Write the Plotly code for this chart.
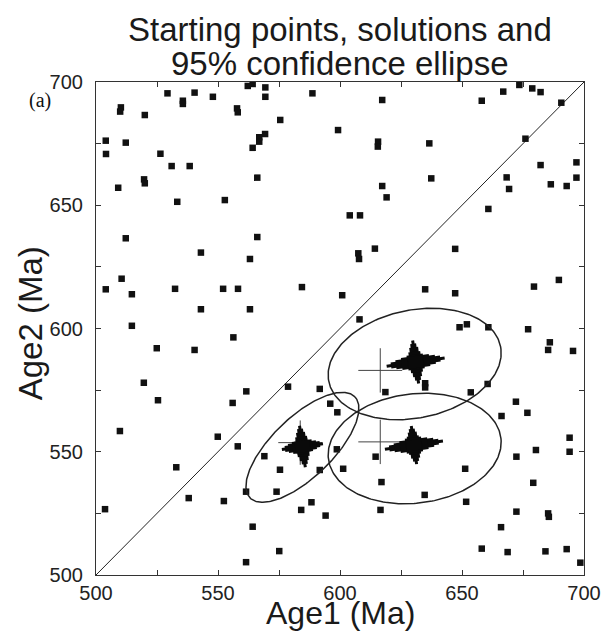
import numpy as np
import plotly.graph_objects as go

# ---------------- data ----------------
# starting points (Age1, Age2) in Ma
start_x = [529.3, 540.4, 547.9, 535.6, 535.6, 562.2, 564.2, 569.4, 569.4, 588.7,
           510.2, 509.9, 520.0, 557.8, 558.1, 575.5, 599.2, 504.0, 512.2, 504.1,
           526.4, 569.3, 566.9, 566.9, 564.2, 531.0, 538.4, 519.7, 520.0, 509.1,
           566.1, 533.3, 552.8, 604.0, 512.2, 566.1, 543.0, 563.1, 510.5, 504.0,
           514.7, 532.4, 552.1, 558.2, 584.4, 600.9, 543.0, 563.1, 514.7,
           617.3, 658.1, 666.9, 673.5, 678.8, 682.2, 690.7, 615.6, 615.5, 636.6,
           676.0, 696.9, 682.2, 668.3, 669.3, 696.9, 686.4, 692.9, 637.4, 617.3,
           619.1, 608.2, 660.8, 614.3, 607.5, 607.8, 647.2, 634.9, 647.2, 679.5,
           689.7, 608.0, 649.0, 652.0, 660.8, 677.1,
           556.3, 524.9, 540.4, 519.6, 525.4, 561.6, 556.0, 578.7, 509.8, 549.9,
           558.1, 569.0, 575.4, 532.9, 538.0, 552.4, 561.5, 574.0, 503.7, 564.2,
           575.1, 561.5,
           591.7, 596.0, 598.9, 591.7, 598.7, 601.3, 614.6, 588.3, 584.1, 594.1,
           634.9, 634.9, 618.6, 653.6, 660.5, 672.1, 666.2, 651.3, 617.0, 634.7,
           651.7, 616.6, 672.3, 672.3,
           686.0, 685.3, 695.5, 676.8, 694.1, 694.1, 680.3, 679.2, 685.3, 685.6,
           666.0, 658.1, 668.7, 684.2, 692.9, 698.5]
start_y = [695.4, 695.7, 694.0, 692.4, 691.1, 698.4, 699.2, 697.8, 694.0, 695.4,
           689.7, 688.0, 686.6, 689.3, 687.7, 684.6, 680.5, 676.2, 675.4, 670.8,
           670.9, 678.9, 677.6, 675.8, 673.3, 665.9, 665.9, 660.5, 658.9, 657.1,
           661.2, 651.4, 652.1, 645.9, 636.6, 637.1, 630.8, 628.2, 620.2, 615.9,
           613.9, 616.1, 616.1, 616.1, 616.8, 613.5, 607.8, 607.8, 601.1,
           692.7, 692.4, 696.1, 698.8, 697.4, 695.9, 691.6, 675.8, 673.8, 675.1,
           677.0, 667.4, 666.3, 661.3, 656.6, 661.2, 658.5, 657.8, 660.9, 657.8,
           653.2, 645.9, 648.5, 632.4, 630.5, 628.2, 632.3, 615.9, 614.3, 617.0,
           619.7, 603.7, 600.5, 601.7, 600.5, 599.7,
           596.4, 592.0, 591.3, 578.0, 570.9, 574.5, 569.8, 576.4, 558.4, 556.1,
           552.2, 548.2, 542.7, 543.7, 531.2, 530.0, 533.8, 533.8, 526.7, 519.6,
           509.7, 505.2,
           575.5, 569.5, 566.0, 542.6, 551.0, 543.1, 548.0, 529.5, 526.4, 524.1,
           577.8, 576.1, 574.2, 574.1, 577.5, 570.3, 564.5, 543.1, 537.7, 532.5,
           529.7, 526.4, 548.0, 525.7,
           594.4, 591.3, 590.9, 565.8, 555.7, 550.0, 550.7, 537.4, 525.0, 523.6,
           519.4, 510.7, 509.3, 509.6, 510.5, 505.0]

# reference (thin cross) positions and half-lengths
ref_x = [616.5, 616.5, 583.7]
ref_y = [583.0, 554.0, 553.7]
ref_half = [9.0, 9.0, 9.0]

# solution clusters: centre, spread along Age1 / Age2, orientation (deg)
sol_x = [631.0, 630.3, 584.6]
sol_y = [586.4, 552.7, 552.1]
sol_ex = [12.0, 12.0, 8.5]
sol_ey = [8.8, 7.8, 8.5]
sol_rot = [8.0, 8.0, 8.0]

# 95% confidence ellipses: centre, semi-axes (Ma), orientation (deg)
ell_cx = [630.6, 630.6, 584.6]
ell_cy = [585.6, 551.3, 551.8]
ell_a = [35.9, 35.6, 29.7]
ell_b = [21.9, 22.2, 12.3]
ell_theta = [11.4, 6.7, 43.5]

axis_range = [500, 700]
tick_vals = [500, 550, 600, 650, 700]

# ---------------- figure ----------------
fig = go.Figure()

# 1:1 line
fig.add_trace(go.Scatter(x=axis_range, y=axis_range, mode="lines",
                         line=dict(color="#222", width=1), hoverinfo="skip"))

# starting points
fig.add_trace(go.Scatter(x=start_x, y=start_y, mode="markers",
                         marker=dict(symbol="square", size=6.5, color="#111",
                                     line=dict(width=0))))

# ellipses
t = np.linspace(0, 2 * np.pi, 241)
for cx, cy, a, b, th in zip(ell_cx, ell_cy, ell_a, ell_b, ell_theta):
    r = np.deg2rad(th)
    ex = cx + a * np.cos(t) * np.cos(r) - b * np.sin(t) * np.sin(r)
    ey = cy + a * np.cos(t) * np.sin(r) + b * np.sin(t) * np.cos(r)
    fig.add_trace(go.Scatter(x=ex, y=ey, mode="lines",
                             line=dict(color="#222", width=1.5), hoverinfo="skip"))

# thin reference crosses
fig.add_trace(go.Scatter(
    x=ref_x, y=ref_y, mode="markers",
    marker=dict(size=1, color="rgba(0,0,0,0)"),
    error_x=dict(type="data", array=ref_half, color="#444", thickness=1, width=0),
    error_y=dict(type="data", array=ref_half, color="#444", thickness=1, width=0)))

# solution clusters drawn as tapered heavy (slightly rotated) crosses
layers = [(1.0, 3), (0.85, 6), (0.68, 9), (0.48, 12), (0.28, 15)]
for frac, thick in layers:
    xs, ys = [], []
    for cx, cy, ex, ey, rot in zip(sol_x, sol_y, sol_ex, sol_ey, sol_rot):
        r = np.deg2rad(rot)
        hx, hy = ex * frac * np.cos(r), ex * frac * np.sin(r)
        vx, vy = -ey * frac * np.sin(r), ey * frac * np.cos(r)
        xs += [cx - hx, cx + hx, None, cx - vx, cx + vx, None]
        ys += [cy - hy, cy + hy, None, cy - vy, cy + vy, None]
    fig.add_trace(go.Scatter(x=xs, y=ys, mode="lines",
                             line=dict(color="#0a0a0a", width=thick),
                             hoverinfo="skip"))

axis_common = dict(range=axis_range, tickvals=tick_vals, showgrid=False, zeroline=False,
                   showline=True, linecolor="#333", linewidth=1.2, mirror="allticks",
                   ticks="inside", ticklen=5, tickwidth=1, tickcolor="#333",
                   minor=dict(dtick=25, ticks="inside", ticklen=5, tickwidth=1,
                              tickcolor="#333", showgrid=False),
                   tickfont=dict(family="Liberation Sans, Arial", size=20, color="#222"))

fig.update_layout(
    width=613, height=633,
    margin=dict(l=96, r=27, t=82, b=58),
    paper_bgcolor="white", plot_bgcolor="white",
    showlegend=False,
    xaxis=axis_common,
    yaxis=dict(axis_common, ticklabelstandoff=8),
    font=dict(family="Liberation Sans, Arial", color="#1a1a1a"),
)

ann_font = dict(family="Liberation Sans, Arial", size=33, color="#1a1a1a")
fig.add_annotation(text="Starting points, solutions and", xref="paper", yref="paper",
                   x=0.5, y=(575 - 30) / 493, showarrow=False, font=ann_font,
                   xanchor="center", yanchor="middle")
fig.add_annotation(text="95% confidence ellipse", xref="paper", yref="paper",
                   x=0.5, y=(575 - 63) / 493, showarrow=False, font=ann_font,
                   xanchor="center", yanchor="middle")
fig.add_annotation(text="Age1 (Ma)", xref="paper", yref="paper",
                   x=(341 - 96) / 490, y=(575 - 613) / 493, showarrow=False,
                   font=dict(family="Liberation Sans, Arial", size=32, color="#1a1a1a"),
                   xanchor="center", yanchor="middle")
fig.add_annotation(text="Age2 (Ma)", xref="paper", yref="paper", textangle=-90,
                   x=(30 - 96) / 490, y=(575 - 323) / 493, showarrow=False,
                   font=dict(family="Liberation Sans, Arial", size=33, color="#1a1a1a"),
                   xanchor="center", yanchor="middle")
fig.add_annotation(text="(a)", xref="paper", yref="paper",
                   x=(40 - 96) / 490, y=(575 - 100) / 493, showarrow=False,
                   font=dict(family="Liberation Serif, Times New Roman", size=20, color="#111"),
                   xanchor="center", yanchor="middle")

fig.write_html("out.html", config={"displayModeBar": False},
               post_script="document.body.style.margin='0';")
